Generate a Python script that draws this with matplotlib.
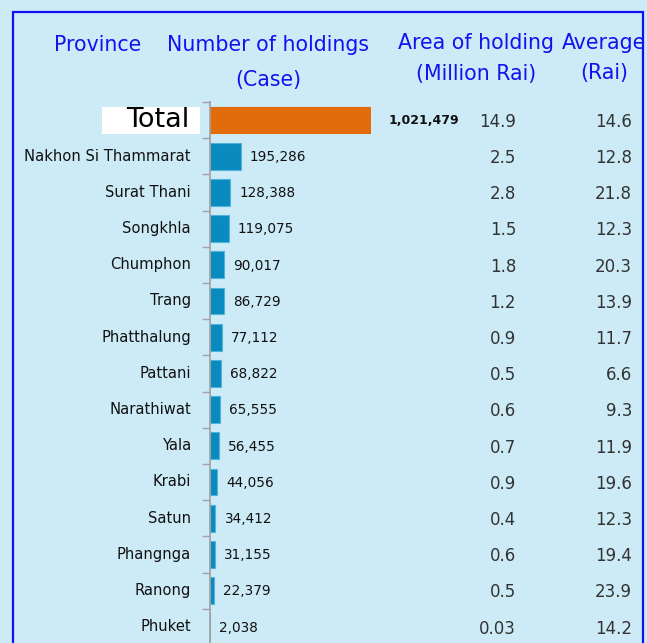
import matplotlib
matplotlib.use("Agg")
import matplotlib.pyplot as plt
from matplotlib.patches import Rectangle
from matplotlib.transforms import blended_transform_factory

provinces = ["Total", "Nakhon Si Thammarat", "Surat Thani", "Songkhla", "Chumphon", "Trang",
             "Phatthalung", "Pattani", "Narathiwat", "Yala", "Krabi", "Satun",
             "Phangnga", "Ranong", "Phuket"]
holdings = [1021479, 195286, 128388, 119075, 90017, 86729, 77112, 68822, 65555,
            56455, 44056, 34412, 31155, 22379, 2038]
area = ["14.9", "2.5", "2.8", "1.5", "1.8", "1.2", "0.9", "0.5", "0.6", "0.7",
        "0.9", "0.4", "0.6", "0.5", "0.03"]
average = ["14.6", "12.8", "21.8", "12.3", "20.3", "13.9", "11.7", "6.6", "9.3",
           "11.9", "19.6", "12.3", "19.4", "23.9", "14.2"]

W, H = 647, 643
BG = "#cdebf7"
BLUE = "#1212f0"
fig = plt.figure(figsize=(W / 100, H / 100), dpi=100, facecolor=BG)

def fx(px):
    return px / W

def fy(py):
    return 1 - py / H

row0, step = 120, 36.2
top_px = row0 - 0.5 * step
ax = fig.add_axes([fx(210), 0, fx(371) - fx(210), fy(top_px)])
ax.set_facecolor("none")
ax.set_zorder(2)
n_bottom = (H - row0) / step
ax.set_ylim(n_bottom, -0.5)
ax.set_xlim(0, holdings[0])

ys = list(range(len(provinces)))
colors = ["#e36c0a"] + ["#0a8abf"] * (len(provinces) - 1)
edges = ["#e36c0a"] + ["#4fb3dc"] * (len(provinces) - 1)
ax.barh(ys, holdings, height=0.74, color=colors, edgecolor=edges, linewidth=0.8)

for s in ["top", "right", "bottom"]:
    ax.spines[s].set_visible(False)
ax.spines["left"].set_color("#a0a0a0")
ax.spines["left"].set_linewidth(1.2)
ax.set_xticks([])
ax.set_yticks([i - 0.5 for i in range(len(provinces))])
ax.set_yticklabels([])
ax.tick_params(axis="y", length=6, color="#a0a0a0", width=1.0)

tr_lab = blended_transform_factory(fig.transFigure, ax.transData)
for i, p in enumerate(provinces):
    if i == 0:
        continue
    ax.text(fx(191), i, p, transform=tr_lab, ha="right", va="center",
            fontsize=10.6, color="#111111")

fig.patches.append(Rectangle((fx(102), fy(134)), fx(200) - fx(102), fy(107) - fy(134),
                             transform=fig.transFigure, facecolor="white",
                             edgecolor="none", zorder=1))
ax.text(fx(189), 0, "Total", transform=tr_lab, ha="right", va="center",
        fontsize=19.5, color="black", zorder=3)

px_unit = holdings[0] / (371 - 211)
for i, v in enumerate(holdings):
    gap = 17 if i == 0 else 9
    ax.text(v + gap * px_unit, i + 0.02, f"{v:,}", ha="left", va="center",
            fontsize=9.8 if i else 9, color="#111111",
            fontweight="normal" if i else "bold", clip_on=False)

for i in range(len(provinces)):
    ax.text(fx(516), i + 0.05, area[i], transform=tr_lab, ha="right", va="center",
            fontsize=12, color="#333333")
    ax.text(fx(632), i + 0.05, average[i], transform=tr_lab, ha="right", va="center",
            fontsize=12, color="#333333")

hs = 14.8
fig.text(fx(98), fy(45), "Province", ha="center", va="center", fontsize=hs, color=BLUE)
fig.text(fx(268), fy(45), "Number of holdings", ha="center", va="center", fontsize=hs, color=BLUE)
fig.text(fx(268), fy(80), "(Case)", ha="center", va="center", fontsize=hs, color=BLUE)
fig.text(fx(476), fy(43), "Area of holding", ha="center", va="center", fontsize=hs, color=BLUE)
fig.text(fx(476), fy(74), "(Million Rai)", ha="center", va="center", fontsize=hs, color=BLUE)
fig.text(fx(604), fy(43), "Average", ha="center", va="center", fontsize=hs, color=BLUE)
fig.text(fx(604), fy(73), "(Rai)", ha="center", va="center", fontsize=hs, color=BLUE)

fig.patches.append(Rectangle((fx(13), fy(H + 20)), fx(643) - fx(13), fy(12) - fy(H + 20),
                             transform=fig.transFigure, facecolor="none",
                             edgecolor="#1010f0", linewidth=1.6, zorder=5))

fig.savefig("out.png", dpi=100, facecolor=BG)
